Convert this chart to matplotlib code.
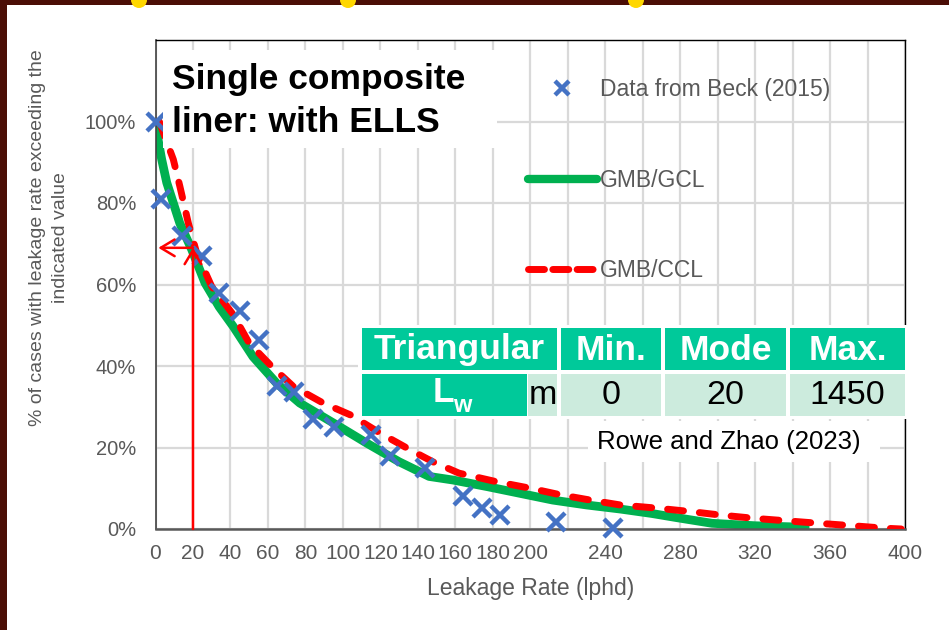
import matplotlib
matplotlib.use('Agg')
import matplotlib.pyplot as plt
from matplotlib.patches import Rectangle, Ellipse
from matplotlib.lines import Line2D

plt.rcParams['font.family'] = ['Liberation Sans', 'DejaVu Sans']

# ---------------- data ----------------
beck_x = [0, 3, 14, 25, 34, 45, 55, 65, 74, 84, 95, 115, 125, 144, 164, 174, 184, 214, 244]
beck_y = [1.00, 0.81, 0.72, 0.67, 0.58, 0.535, 0.465, 0.35, 0.335, 0.27, 0.25, 0.23, 0.18,
          0.15, 0.08, 0.052, 0.034, 0.018, 0.002]

gcl_x = [0, 3.3, 6, 13, 19.3, 26.4, 34, 41.5, 52, 64.6, 77, 95, 113, 130, 146, 159, 177,
         194, 212, 230, 248, 265, 278, 297, 320, 349]
gcl_y = [0.99, 0.907, 0.85, 0.75, 0.686, 0.604, 0.545, 0.497, 0.423, 0.358, 0.309, 0.26,
         0.21, 0.165, 0.129, 0.12, 0.104, 0.088, 0.071, 0.059, 0.049, 0.038, 0.028, 0.014,
         0.008, 0.004]

ccl_x = [2, 9.5, 13, 17.5, 22, 30, 41.5, 50, 62, 73.5, 89.5, 104, 120, 136, 148, 162, 182,
         200, 216, 232, 248, 268, 285, 302, 320, 337, 354, 372, 389, 398]
ccl_y = [1.0, 0.907, 0.841, 0.751, 0.677, 0.595, 0.526, 0.456, 0.399, 0.35, 0.309, 0.28,
         0.235, 0.194, 0.165, 0.137, 0.116, 0.10, 0.084, 0.071, 0.059, 0.051, 0.043, 0.034,
         0.026, 0.02, 0.014, 0.008, 0.002, 0.0]

x_ticks = list(range(0, 401, 20))
x_tick_labels = [str(v) if (v <= 200 or v % 40 == 0) else '' for v in x_ticks]
y_ticks = [0, 0.2, 0.4, 0.6, 0.8, 1.0, 1.2]
y_tick_labels = ['0%', '20%', '40%', '60%', '80%', '100%', '']

mode_lw = 20
arrow_level = 0.69

legend_labels = ['Data from Beck (2015)', 'GMB/GCL', 'GMB/CCL']
table_header = ['Triangular', 'Min.', 'Mode', 'Max.']
table_row = ['m', '0', '20', '1450']

# ---------------- figure ----------------
W, H = 949, 630
fig = plt.figure(figsize=(W / 100, H / 100), dpi=100)
fig.patch.set_facecolor('white')


def fx(px):
    return px / W


def fy(py):
    return 1 - py / H


ax = fig.add_axes([fx(155.5), fy(529), fx(905) - fx(155.5), fy(40) - fy(529)])
ax.set_xlim(0, 400)
ax.set_ylim(0, 1.2)

gray_txt = '#595959'
ax.set_xticks(x_ticks)
ax.set_xticklabels(x_tick_labels, fontsize=15, color=gray_txt)
ax.set_yticks(y_ticks)
ax.set_yticklabels(y_tick_labels, fontsize=14.5, color=gray_txt)
ax.tick_params(axis='both', length=0)
ax.tick_params(axis='x', pad=11)
ax.tick_params(axis='y', pad=14)
ax.grid(True, color='#D9D9D9', lw=1.6, zorder=0)
ax.set_axisbelow(True)

for s in ['top', 'right']:
    ax.spines[s].set_color('black')
    ax.spines[s].set_linewidth(1.0)
ax.spines['left'].set_color('#404040')
ax.spines['left'].set_linewidth(1.2)
ax.spines['bottom'].set_color('#595959')
ax.spines['bottom'].set_linewidth(1.8)

green = '#00B050'
red = '#FF0000'
blue = '#4472C4'

ax.plot(gcl_x, gcl_y, color=green, lw=6.3, solid_capstyle='butt', zorder=2)
ax.plot(ccl_x, ccl_y, color=red, lw=5, dashes=(2.3, 2.3), dash_capstyle='round', zorder=3)
ax.plot(beck_x, beck_y, linestyle='none', marker='x', markersize=13, mew=3.2,
        color=blue, zorder=4, clip_on=False)

# red arrows marking the mode
arrow_kw = dict(arrowstyle='->,head_length=0.5,head_width=0.3', color=red, lw=1.8,
                mutation_scale=20, shrinkA=0, shrinkB=0)
ax.annotate('', xy=(mode_lw, arrow_level), xytext=(mode_lw, 0),
            arrowprops=arrow_kw, zorder=6)
ax.annotate('', xy=(1.5, arrow_level), xytext=(mode_lw, arrow_level),
            arrowprops=arrow_kw, zorder=6)

ax.set_xlabel('Leakage Rate (lphd)', fontsize=16.5, color=gray_txt, labelpad=10)
fig.text(fx(49), fy(238), '% of cases with leakage rate exceeding the\nindicated value',
         fontsize=14, color=gray_txt, rotation=90, ha='center', va='center',
         multialignment='center', linespacing=1.45)

handles = [
    Line2D([], [], linestyle='none', marker='x', markersize=10, mew=3.2, color=blue),
    Line2D([], [], color=green, lw=6, solid_capstyle='round'),
    Line2D([], [], color=red, lw=5, dashes=(2.3, 1.2), dash_capstyle='round'),
]
ax.legend(handles, legend_labels, loc='upper left', bbox_to_anchor=(fx(528), fy(78)),
          bbox_transform=fig.transFigure, frameon=False, fontsize=16.5, labelcolor=gray_txt,
          handlelength=3.0, handletextpad=0.15, labelspacing=2.95, borderpad=0,
          borderaxespad=0)

# ---------------- overlays ----------------
def rect(x0, x1, y0, y1, color, z=5):
    fig.add_artist(Rectangle((fx(x0), fy(y1)), fx(x1) - fx(x0), fy(y0) - fy(y1),
                             facecolor=color, edgecolor='none', zorder=z,
                             transform=fig.transFigure))


# title box
rect(163, 497, 50, 148, 'white')
fig.text(fx(172), fy(80), 'Single composite', fontsize=25.5, fontweight='bold',
         color='black', ha='left', va='center', zorder=6)
fig.text(fx(172), fy(123), 'liner: with ELLS', fontsize=25.5, fontweight='bold',
         color='black', ha='left', va='center', zorder=6)

# table
teal = '#00C99A'
light = '#CCEBDD'
rect(358, 908, 325, 419, 'white')
cols = [(362, 557), (561, 661), (665, 786), (790, 905)]
for (c0, c1), lab in zip(cols, table_header):
    rect(c0, c1, 328, 370, teal, 6)
    fig.text(fx((c0 + c1) / 2), fy(350), lab, fontsize=25.5, fontweight='bold', color='white',
             ha='center', va='center', zorder=7)
rect(362, 527, 374, 416, teal, 6)
fig.text(fx(443), fy(393), 'L', fontsize=25.5, fontweight='bold', color='white',
         ha='center', va='center', zorder=7)
fig.text(fx(462), fy(406), 'w', fontsize=17, fontweight='bold', color='white',
         ha='center', va='center', zorder=7)
row_cols = [(528, 557), (561, 661), (665, 786), (790, 905)]
for (c0, c1), lab in zip(row_cols, table_row):
    rect(c0, c1, 374, 416, light, 6)
    fig.text(fx((c0 + c1) / 2), fy(395), lab, fontsize=24.5, color='black',
             ha='center', va='center', zorder=7)

# source note
rect(588, 880, 421, 462, 'white')
fig.text(fx(597), fy(442), 'Rowe and Zhao (2023)', fontsize=18.5, color='black',
         ha='left', va='center', zorder=7)

# slide border decorations
maroon = '#4B0E06'
rect(0, W, 0, 5, maroon, 8)
rect(0, 7, 0, H, maroon, 8)
for cx in [139, 348, 636]:
    fig.add_artist(Ellipse((fx(cx), fy(0)), 16 / W, 16 / H, facecolor='#FFD700',
                           edgecolor='none', zorder=9, transform=fig.transFigure))

fig.savefig('out.png', dpi=100)
